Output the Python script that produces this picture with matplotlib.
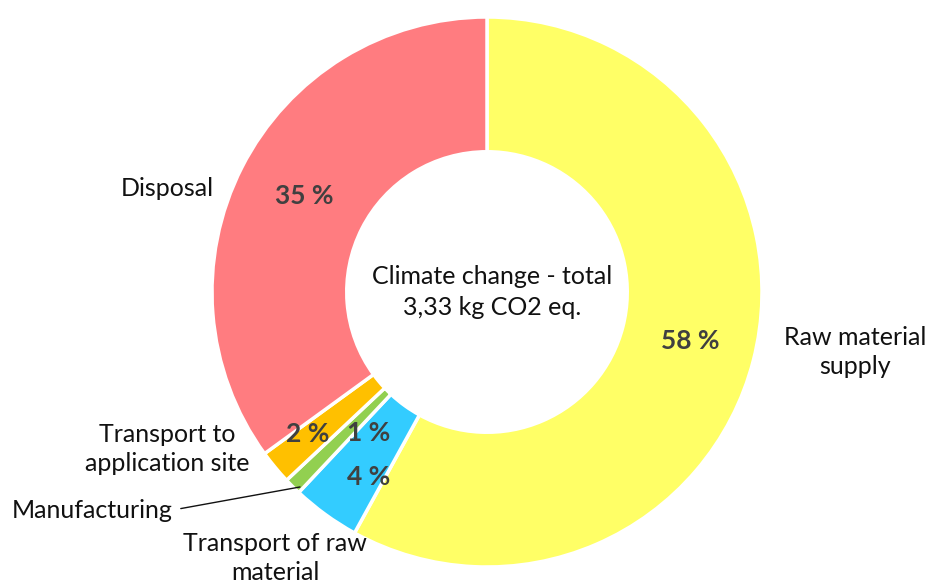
import matplotlib.pyplot as plt
import numpy as np

plt.rcParams['font.family'] = ['Lato', 'DejaVu Sans']

# data
stages = ["Raw material\nsupply", "Transport of raw\nmaterial", "Manufacturing",
          "Transport to\napplication site", "Disposal"]
shares = [58, 4, 1, 2, 35]
colors = ["#FFFF66", "#33CCFF", "#92D050", "#FFC000", "#FF7C80"]
total_txt = "Climate change - total\n3,33 kg CO2 eq."

# label placement (radius, angle shift in deg) for the % labels
pct_dist = [0.76, 0.80, 0.67, 0.83, 0.75]
pct_shift = [0.8, 3.4, 5.1, -1.2, -0.8]
# outer label positions (axes data units)
lab_pos = [(1.338, -0.218), (-0.771, -0.967), (-1.436, -0.793),
           (-1.164, -0.571), (-1.164, 0.378)]

W, H = 929, 584
cx, cy, R = 487, 292, 275
fig = plt.figure(figsize=(W / 100, H / 100), dpi=100)
ax = fig.add_axes([(cx - R) / W, (H - cy - R) / H, 2 * R / W, 2 * R / H])

wedges, _ = ax.pie(shares, colors=colors, startangle=90, counterclock=False,
                   radius=1, wedgeprops=dict(width=0.49, edgecolor="white", linewidth=2.5))
ax.set_xlim(-1, 1)
ax.set_ylim(-1, 1)
ax.set_aspect("equal")
ax.axis("off")

for w, v, d, s, name, pos in zip(wedges, shares, pct_dist, pct_shift, stages, lab_pos):
    mid = np.deg2rad((w.theta1 + w.theta2) / 2 + s)
    ax.text(d * np.cos(mid), d * np.sin(mid), f"{v} %", ha="center", va="center",
            fontsize=19, fontweight="bold", color="#404040")
    if name == "Manufacturing":
        ax.annotate(name, xy=(-0.68, -0.709), xytext=pos, ha="center", va="center",
                    fontsize=18, color="#111111",
                    arrowprops=dict(arrowstyle="-", color="#111111", lw=1,
                                    shrinkA=4, shrinkB=0, relpos=(1, 0.5)))
    else:
        ax.text(pos[0], pos[1], name, ha="center", va="center", fontsize=18,
                color="#111111", linespacing=1.35)

ax.text(0.02, 0.0, total_txt, ha="center", va="center", fontsize=18,
        color="#111111", linespacing=1.4)

fig.savefig("out.png", dpi=100)
